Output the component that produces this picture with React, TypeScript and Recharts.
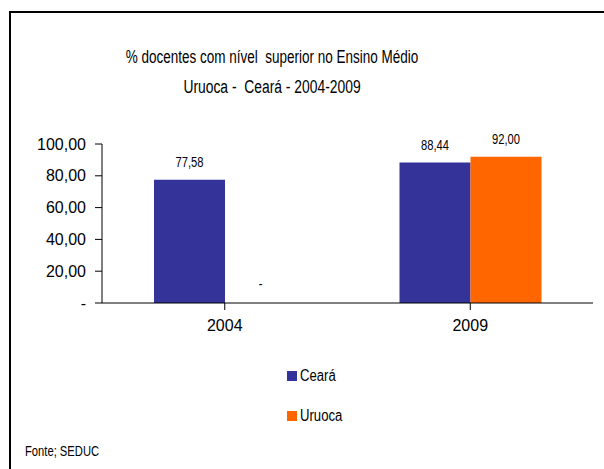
import { BarChart, Bar, XAxis, YAxis, LabelList, Rectangle } from "recharts";

const YEARS = ["2004", "2009"];
const CEARA = [77.58, 88.44];
const URUOCA = [0, 92.0];
const Y_TICKS = [0, 20, 40, 60, 80, 100];

const COLORS = { ceara: "#333399", uruoca: "#FF6600" };
const SANS = "'Liberation Sans', Arial, sans-serif";

const data = YEARS.map((year, i) => ({ year, ceara: CEARA[i], uruoca: URUOCA[i] }));

const fmt = (v: number) =>
  v === 0 ? "-" : v.toLocaleString("pt-BR", { minimumFractionDigits: 2, maximumFractionDigits: 2 });

// narrow-looking value label above each bar
function ValueLabel(props: any) {
  const { x, y, width, value } = props;
  const cx = Number(x) + Number(width) / 2;
  const cy = Number(y) - 17;
  return (
    <text
      transform={`translate(${cx},${cy}) scale(0.8,1)`}
      textAnchor="middle"
      dominantBaseline="central"
      fontSize={14}
      fontFamily={SANS}
      fill="#000"
    >
      {fmt(Number(value))}
    </text>
  );
}

// zero values keep a 1px slot (so the "-" label shows) but draw no bar
function HideZero(props: any) {
  if (!props.value) return <g />;
  return <Rectangle {...props} />;
}

const squeeze = (s: number): React.CSSProperties => ({
  display: "inline-block",
  transform: `scaleX(${s})`,
  transformOrigin: "left center",
  whiteSpace: "nowrap",
});

export default function App() {
  return (
    <div style={{ position: "absolute", left: 0, top: 0, width: 604, height: 469, background: "#fff", overflow: "hidden" }}>
      <div
        style={{
          position: "absolute",
          left: 9,
          top: 11,
          width: 604,
          height: 469,
          borderTop: "2px solid #000",
          borderLeft: "2px solid #000",
        }}
      />
      <div
        style={{
          position: "absolute",
          left: 0,
          width: 544,
          top: 42,
          textAlign: "center",
          fontFamily: SANS,
          fontSize: 18,
          lineHeight: "30px",
          color: "#000",
        }}
      >
        <div style={{ transform: "scaleX(0.75)", whiteSpace: "nowrap" }}>
          % docentes com nível&nbsp; superior no Ensino Médio
        </div>
        <div style={{ transform: "scaleX(0.77)", whiteSpace: "nowrap" }}>Uruoca -&nbsp; Ceará - 2004-2009</div>
      </div>
      <div style={{ position: "absolute", left: 287, top: 366, fontFamily: SANS, fontSize: 16, color: "#000" }}>
        {[
          { label: "Ceará", color: COLORS.ceara },
          { label: "Uruoca", color: COLORS.uruoca },
        ].map((it) => (
          <div key={it.label} style={{ display: "flex", alignItems: "center", height: 20, marginBottom: 20 }}>
            <span style={{ width: 10, height: 10, background: it.color, marginRight: 3, display: "inline-block" }} />
            <span style={squeeze(0.82)}>{it.label}</span>
          </div>
        ))}
      </div>
      <div style={{ position: "absolute", left: 25, top: 443, fontFamily: SANS, fontSize: 14, color: "#000" }}>
        <span style={squeeze(0.8)}>Fonte; SEDUC</span>
      </div>
      <BarChart
        width={604}
        height={469}
        data={data}
        margin={{ top: 144, right: 11, left: 10, bottom: 136 }}
        barGap={0}
        style={{ position: "absolute", left: 0, top: 0 }}
      >
        <XAxis
          dataKey="year"
          stroke="#000"
          tickSize={7}
          tickMargin={10}
          height={30}
          tick={{ fill: "#000", fontSize: 16, fontFamily: SANS }}
          axisLine={{ stroke: "#000" }}
          tickLine={{ stroke: "#000" }}
          interval={0}
        />
        <YAxis
          width={92}
          domain={[0, 100]}
          ticks={Y_TICKS}
          tickFormatter={fmt}
          tickSize={7}
          tickMargin={9}
          stroke="#000"
          tick={{ fill: "#000", fontSize: 16, fontFamily: SANS }}
          axisLine={{ stroke: "#000" }}
          tickLine={{ stroke: "#000" }}
          interval={0}
        />
        <Bar dataKey="ceara" name="Ceará" fill={COLORS.ceara} barSize={71} isAnimationActive={false}>
          <LabelList dataKey="ceara" content={ValueLabel} />
        </Bar>
        <Bar
          dataKey="uruoca"
          name="Uruoca"
          fill={COLORS.uruoca}
          barSize={71}
          minPointSize={1}
          shape={HideZero}
          isAnimationActive={false}
        >
          <LabelList dataKey="uruoca" content={ValueLabel} />
        </Bar>
      </BarChart>
    </div>
  );
}
